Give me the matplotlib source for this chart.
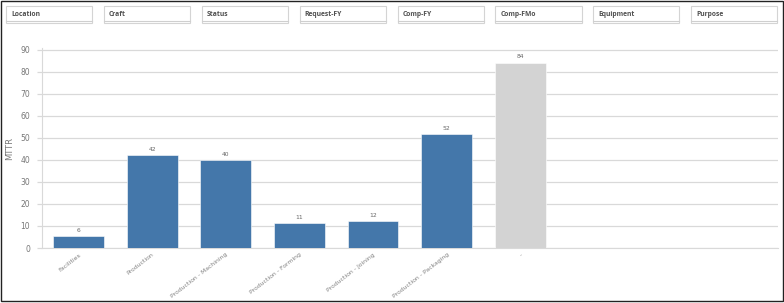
import matplotlib.pyplot as plt
from matplotlib.patches import Rectangle

# filter boxes across the top
filters = ['Location', 'Craft', 'Status', 'Request-FY', 'Comp-FY', 'Comp-FMo',
           'Equipment', 'Purpose']

# bar chart data
crafts = ['Facilities', 'Production', 'Production - Machining', 'Production - Forming',
          'Production - Joining', 'Production - Packaging', '-']
mttr = [5.5, 42.3, 39.8, 11.3, 12.2, 51.8, 84.2]
mttr_labels = ['6', '42', '40', '11', '12', '52', '84']
null_craft = '-'

W, H = 784, 303
fig = plt.figure(figsize=(W / 100, H / 100), dpi=100)


def px(x, y):
    # pixel coords (top-left origin) -> figure fraction
    return x / W, 1 - y / H


# outer frame
fig.add_artist(Rectangle(px(0.5, 300.5), 782 / W, 300 / H, transform=fig.transFigure,
                         fill=False, edgecolor='#222222', linewidth=1.0))

# filter boxes
for i, name in enumerate(filters):
    x0 = 6 + i * 97.9
    fig.add_artist(Rectangle(px(x0, 23), 86 / W, 17 / H, transform=fig.transFigure,
                             facecolor='white', edgecolor='#d4d4d4', linewidth=0.8))
    fig.add_artist(plt.Line2D([x0 / W, (x0 + 86) / W], [1 - 21 / H, 1 - 21 / H],
                              transform=fig.transFigure, color='#cfcfcf', linewidth=0.8))
    fig.text(*px(x0 + 5, 14.5), name, fontsize=4.9, fontweight='bold',
             color='#505050', va='center', ha='left', family='Open Sans')

ax = fig.add_axes([41.75 / W, (H - 248) / H, (778 - 41.75) / W, 200 / H])

colors = ['#d3d3d3' if c == null_craft else '#4477aa' for c in crafts]
xs = range(len(crafts))
bars = ax.bar(xs, mttr, width=0.69, color=colors, edgecolor='white',
              linewidth=0.4, zorder=3)
for b, lab in zip(bars, mttr_labels):
    ax.text(b.get_x() + b.get_width() / 2, b.get_height() + 1.5, lab,
            ha='center', va='bottom', fontsize=4.3, color='#666666')

ax.set_xlim(-0.5, 9.5)
ax.set_ylim(0, 90.8)
ax.set_yticks(range(0, 91, 10))
ax.yaxis.grid(True, color='#d9d9d9', linewidth=0.9, zorder=0)
ax.tick_params(axis='y', length=3.5, width=0.9, color='#d9d9d9', pad=5,
               labelsize=5.5, labelcolor='#777777')
ax.tick_params(axis='x', length=0, pad=3, labelsize=4.4, labelcolor='#808080')
ax.set_xticks(list(xs))
ax.set_xticklabels(crafts, rotation=38, ha='right', rotation_mode='anchor')
for s in ['top', 'right']:
    ax.spines[s].set_visible(False)
ax.spines['left'].set_color('#d9d9d9')
ax.spines['bottom'].set_color('#d9d9d9')
ax.set_ylabel('MTTR', fontsize=6, color='#777777')
ax.yaxis.set_label_coords((14 - 41.75) / (778 - 41.75), 0.5)

fig.savefig('out.png', dpi=100)
